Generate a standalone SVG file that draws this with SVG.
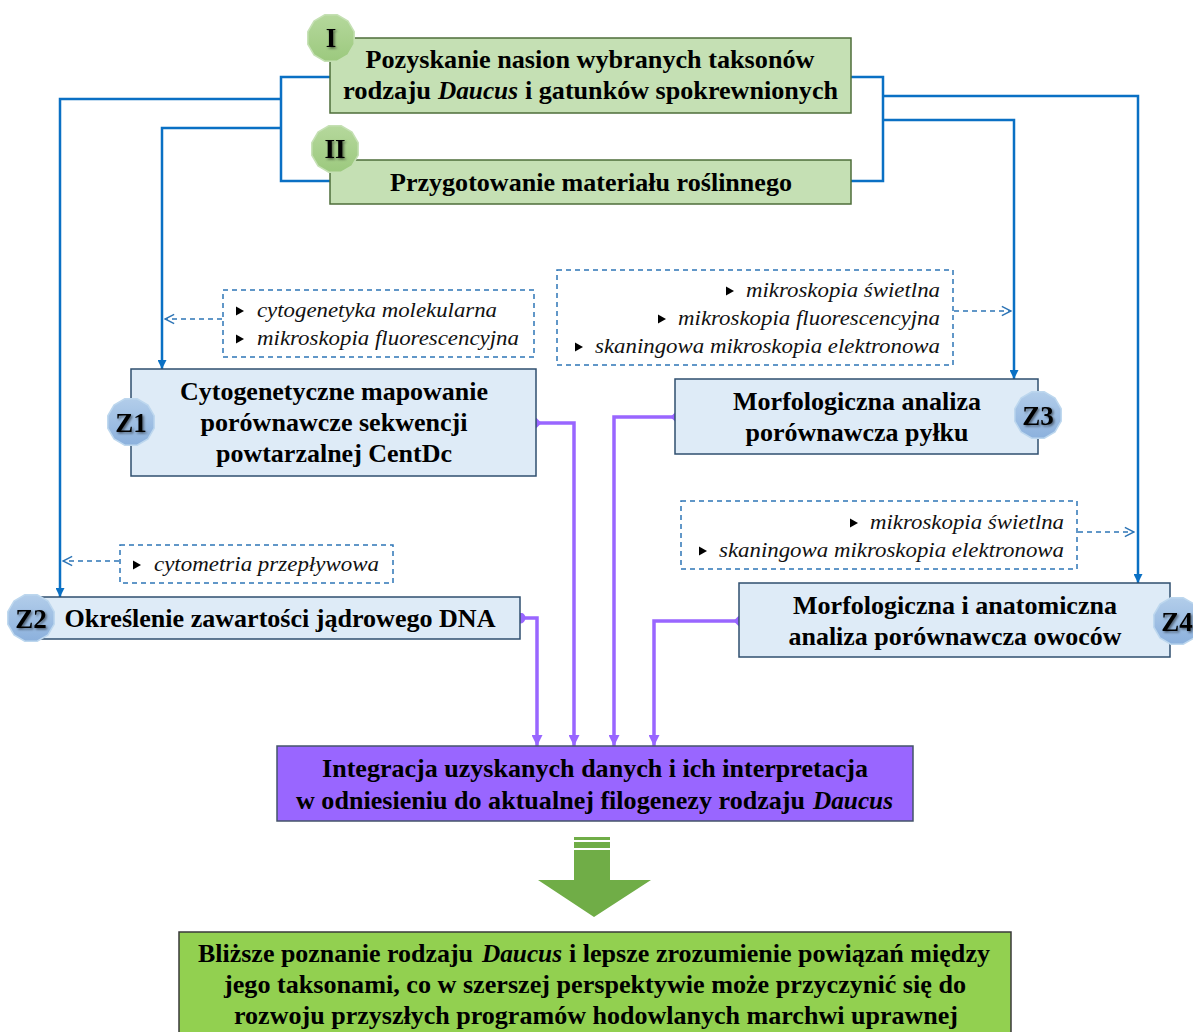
<svg xmlns="http://www.w3.org/2000/svg" width="1193" height="1032" viewBox="0 0 1193 1032">
<defs>
<style>
.t{font-family:'Liberation Serif','Times New Roman',serif;font-weight:bold;font-size:26px;fill:#000;text-anchor:middle}
.s{text-anchor:start}
.ti{font-style:italic}
.it{font-family:'Liberation Serif','Times New Roman',serif;font-style:italic;font-size:22px;fill:#111}
.bt{font-family:'Liberation Serif','Times New Roman',serif;font-weight:bold;font-size:27px;fill:#000;text-anchor:middle}
.gbox{fill:#C5E0B4;stroke:#4E6E3A;stroke-width:1.5}
.bbox{fill:#DEEBF7;stroke:#2F4F6F;stroke-width:1.5}
.dash{fill:#fff;stroke:#2E75B6;stroke-width:1.5;stroke-dasharray:5,4}
.dl{fill:none;stroke:#2E75B6;stroke-width:1.5;stroke-dasharray:5,4}
.bl{fill:none;stroke:#0A70C4;stroke-width:2.5}
.pl{fill:none;stroke:#9966FF;stroke-width:3.5}
.gbadge{fill:url(#gg);stroke:#C5E0B4;stroke-width:1.5}
.bbadge{fill:url(#bg);stroke:#BDD7EE;stroke-width:1.5}
</style>
<linearGradient id="gg" x1="0" y1="0" x2="0" y2="1">
<stop offset="0" stop-color="#B5D89C"/><stop offset="1" stop-color="#9CC97E"/>
</linearGradient>
<linearGradient id="bg" x1="0" y1="0" x2="0" y2="1">
<stop offset="0" stop-color="#B2CDEA"/><stop offset="1" stop-color="#8CB1DD"/>
</linearGradient>
<polygon id="dec" points="23.18,6.21 16.97,16.97 6.21,23.18 -6.21,23.18 -16.97,16.97 -23.18,6.21 -23.18,-6.21 -16.97,-16.97 -6.21,-23.18 6.21,-23.18 16.97,-16.97 23.18,-6.21"/>
<path id="bul" d="M0,-4.5 L8,0 L0,4.5 Z" fill="#000"/>
<marker id="ab" viewBox="0 0 10 10" refX="10" refY="5" markerWidth="10" markerHeight="9" orient="auto" markerUnits="userSpaceOnUse">
<path d="M0,0 L10,5 L0,10 Z" fill="#0A70C4"/>
</marker>
<marker id="ao" viewBox="0 0 12 12" refX="11" refY="6" markerWidth="11" markerHeight="12" orient="auto" markerUnits="userSpaceOnUse">
<path d="M1,1 L11,6 L1,11" fill="none" stroke="#2E75B6" stroke-width="1.6"/>
</marker>
<marker id="ap" viewBox="0 0 10 10" refX="10" refY="5" markerWidth="12" markerHeight="11" orient="auto" markerUnits="userSpaceOnUse">
<path d="M0,0 L10,5 L0,10 Z" fill="#9966FF"/>
</marker>
<marker id="dp" viewBox="0 0 10 10" refX="5" refY="5" markerWidth="11" markerHeight="11" orient="auto" markerUnits="userSpaceOnUse">
<path d="M0,5 L5,0 L10,5 L5,10 Z" fill="#9966FF"/>
</marker>
<marker id="cp" viewBox="0 0 10 10" refX="5" refY="5" markerWidth="11" markerHeight="11" orient="auto" markerUnits="userSpaceOnUse">
<circle cx="5" cy="5" r="5" fill="#9966FF"/>
</marker>
<filter id="sh" x="-30%" y="-30%" width="160%" height="160%">
<feDropShadow dx="1.5" dy="1.5" stdDeviation="1" flood-color="#000" flood-opacity="0.5"/>
</filter>
</defs>
<rect width="1193" height="1032" fill="#fff"/>

<g id="connectors">
<path class="bl" d="M330,77 H281 V181 H330"/>
<path class="bl" d="M281,99 H60 V597" marker-end="url(#ab)"/>
<path class="bl" d="M281,128 H162 V369" marker-end="url(#ab)"/>
<path class="bl" d="M851,77 H883 V181 H851"/>
<path class="bl" d="M883,96 H1138 V583" marker-end="url(#ab)"/>
<path class="bl" d="M883,120 H1014 V379" marker-end="url(#ab)"/>
<path class="dl" d="M222,319 H165" marker-end="url(#ao)"/>
<path class="dl" d="M954,311 H1011" marker-end="url(#ao)"/>
<path class="dl" d="M119,561 H63" marker-end="url(#ao)"/>
<path class="dl" d="M1078,532 H1134" marker-end="url(#ao)"/>
<path class="pl" d="M536,423 H574 V746" marker-start="url(#dp)" marker-end="url(#ap)"/>
<path class="pl" d="M676,417 H614 V746" marker-start="url(#dp)" marker-end="url(#ap)"/>
<path class="pl" d="M520,618 H537 V746" marker-start="url(#cp)" marker-end="url(#ap)"/>
<path class="pl" d="M739,621 H654 V746" marker-start="url(#dp)" marker-end="url(#ap)"/>
</g>

<g id="nodeI">
<rect class="gbox" x="330" y="38" width="521" height="75"/>
<text class="t" x="590" y="68" textLength="449" lengthAdjust="spacingAndGlyphs">Pozyskanie nasion wybranych taksonów</text>
<text class="t s" x="343" y="99" textLength="88" lengthAdjust="spacingAndGlyphs">rodzaju</text>
<text class="t s ti" x="438" y="99" textLength="80" lengthAdjust="spacingAndGlyphs">Daucus</text>
<text class="t s" x="525" y="99" textLength="313" lengthAdjust="spacingAndGlyphs">i gatunków spokrewnionych</text>
<use href="#dec" class="gbadge" x="331" y="38"/>
<text class="bt" x="331" y="47" filter="url(#sh)">I</text>
</g>

<g id="nodeII">
<rect class="gbox" x="330" y="160" width="521" height="44"/>
<text class="t" x="591" y="191" textLength="402" lengthAdjust="spacingAndGlyphs">Przygotowanie materiału roślinnego</text>
<use href="#dec" class="gbadge" x="335" y="149"/>
<text class="bt" x="335" y="158" filter="url(#sh)">II</text>
</g>

<g id="noteZ1">
<rect class="dash" x="223" y="290" width="311" height="67"/>
<use href="#bul" x="236" y="311"/>
<text class="it" x="257" y="317" textLength="240" lengthAdjust="spacingAndGlyphs">cytogenetyka molekularna</text>
<use href="#bul" x="236" y="339"/>
<text class="it" x="257" y="345" textLength="262" lengthAdjust="spacingAndGlyphs">mikroskopia fluorescencyjna</text>
</g>

<g id="noteZ3">
<rect class="dash" x="557" y="270" width="396" height="95"/>
<use href="#bul" x="726" y="291"/>
<text class="it" x="746" y="297" textLength="194" lengthAdjust="spacingAndGlyphs">mikroskopia świetlna</text>
<use href="#bul" x="658" y="319"/>
<text class="it" x="678" y="325" textLength="262" lengthAdjust="spacingAndGlyphs">mikroskopia fluorescencyjna</text>
<use href="#bul" x="575" y="347"/>
<text class="it" x="595" y="353" textLength="345" lengthAdjust="spacingAndGlyphs">skaningowa mikroskopia elektronowa</text>
</g>

<g id="noteZ2">
<rect class="dash" x="120" y="545" width="273" height="38"/>
<use href="#bul" x="133" y="565"/>
<text class="it" x="154" y="571" textLength="225" lengthAdjust="spacingAndGlyphs">cytometria przepływowa</text>
</g>

<g id="noteZ4">
<rect class="dash" x="681" y="501" width="396" height="68"/>
<use href="#bul" x="850" y="523"/>
<text class="it" x="870" y="529" textLength="194" lengthAdjust="spacingAndGlyphs">mikroskopia świetlna</text>
<use href="#bul" x="699" y="551"/>
<text class="it" x="719" y="557" textLength="345" lengthAdjust="spacingAndGlyphs">skaningowa mikroskopia elektronowa</text>
</g>

<g id="Z1">
<rect class="bbox" x="131" y="369" width="405" height="107"/>
<text class="t" x="334" y="400" textLength="308" lengthAdjust="spacingAndGlyphs">Cytogenetyczne mapowanie</text>
<text class="t" x="334" y="431" textLength="267" lengthAdjust="spacingAndGlyphs">porównawcze sekwencji</text>
<text class="t" x="334" y="462" textLength="236" lengthAdjust="spacingAndGlyphs">powtarzalnej CentDc</text>
<use href="#dec" class="bbadge" x="131" y="422"/>
<text class="bt" x="131" y="432" filter="url(#sh)">Z1</text>
</g>

<g id="Z3">
<rect class="bbox" x="675" y="379" width="363" height="75"/>
<text class="t" x="857" y="410" textLength="248" lengthAdjust="spacingAndGlyphs">Morfologiczna analiza</text>
<text class="t" x="857" y="441" textLength="223" lengthAdjust="spacingAndGlyphs">porównawcza pyłku</text>
<use href="#dec" class="bbadge" x="1038" y="415"/>
<text class="bt" x="1038" y="425" filter="url(#sh)">Z3</text>
</g>

<g id="Z2">
<rect class="bbox" x="40" y="597" width="480" height="42"/>
<text class="t" x="280" y="627" textLength="431" lengthAdjust="spacingAndGlyphs">Określenie zawartości jądrowego DNA</text>
<use href="#dec" class="bbadge" x="31" y="618"/>
<text class="bt" x="31" y="628" filter="url(#sh)">Z2</text>
</g>

<g id="Z4">
<rect class="bbox" x="739" y="583" width="431" height="74"/>
<text class="t" x="955" y="614" textLength="324" lengthAdjust="spacingAndGlyphs">Morfologiczna i anatomiczna</text>
<text class="t" x="955" y="645" textLength="333" lengthAdjust="spacingAndGlyphs">analiza porównawcza owoców</text>
<use href="#dec" class="bbadge" x="1177" y="621"/>
<text class="bt" x="1177" y="631" filter="url(#sh)">Z4</text>
</g>

<g id="integration">
<rect x="277" y="746" width="636" height="75" fill="#9966FF" stroke="#44546A" stroke-width="1.5"/>
<text class="t" x="595" y="777" textLength="546" lengthAdjust="spacingAndGlyphs">Integracja uzyskanych danych i ich interpretacja</text>
<text class="t s" x="296" y="809" textLength="509" lengthAdjust="spacingAndGlyphs">w odniesieniu do aktualnej filogenezy rodzaju</text>
<text class="t s ti" x="813" y="809" textLength="80" lengthAdjust="spacingAndGlyphs">Daucus</text>
</g>

<g id="bigArrow">
<rect x="574" y="837" width="36" height="3" fill="#70AD47"/>
<rect x="574" y="842" width="36" height="6" fill="#70AD47"/>
<polygon points="574,850 610,850 610,880 651,880 594,917 538,880 574,880" fill="#70AD47"/>
</g>

<g id="result">
<rect x="179" y="932" width="832" height="110" fill="#92D050" stroke="#3A3A3A" stroke-width="1.5"/>
<text class="t s" x="198" y="962" textLength="275" lengthAdjust="spacingAndGlyphs">Bliższe poznanie rodzaju</text>
<text class="t s ti" x="482" y="962" textLength="80" lengthAdjust="spacingAndGlyphs">Daucus</text>
<text class="t s" x="569" y="962" textLength="421" lengthAdjust="spacingAndGlyphs">i lepsze zrozumienie powiązań między</text>
<text class="t" x="595" y="993" textLength="742" lengthAdjust="spacingAndGlyphs">jego taksonami, co w szerszej perspektywie może przyczynić się do</text>
<text class="t" x="596" y="1024" textLength="724" lengthAdjust="spacingAndGlyphs">rozwoju przyszłych programów hodowlanych marchwi uprawnej</text>
</g>
</svg>
